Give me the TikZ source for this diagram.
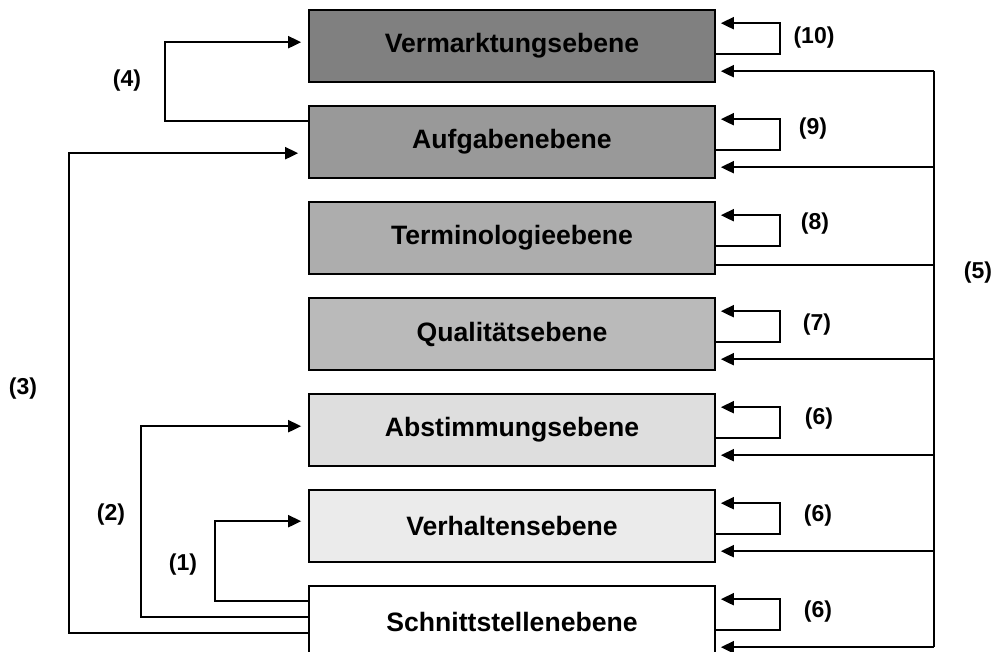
\documentclass[tikz,border=0pt]{standalone}
\usepackage{fontspec}
\setmainfont{Liberation Sans}
\usepackage{tikz}
\usetikzlibrary{positioning, calc, arrows.meta}

\begin{document}
\begin{tikzpicture}[x=0.5pt,y=-0.5pt,node distance=48pt,on grid,line width=1pt,
    >={Triangle[length=6.5pt,width=6pt]},
    ebene/.style={draw,line width=0.8pt,minimum width=203pt,minimum height=36pt,
      font=\bfseries\fontsize{13.3}{16}\selectfont},
    nr/.style={font=\bfseries\fontsize{11.5}{14}\selectfont}]
       \useasboundingbox (0,0) rectangle (995,652);
       \clip (0,0) rectangle (995,652);

       \node[ebene,fill=black!50] (V) at (512,46) {Vermarktungsebene};
       \node[ebene,fill=black!40] (A) [below=of V] {Aufgabenebene};
       \node[ebene,fill=black!32] (T) [below=of A] {Terminologieebene};
       \node[ebene,fill=black!27] (Q) [below=of T] {Qualitätsebene};
       \node[ebene,fill=black!13] (Ab) [below=of Q] {Abstimmungsebene};
       \node[ebene,fill=black!8] (Vh) [below=of Ab] {Verhaltensebene};
       \node[ebene,fill=white] (S) [below=of Vh] {Schnittstellenebene};

       % self loops
       \foreach \b in {V,A,T,Q,Ab,Vh,S}
         \draw[->] ($(\b.north east)+(0,45)$) -- ++(64,0) |- ($(\b.north east)+(5,14)$);

       % feedback bus (5)
       \draw ($(V.north east)+(218,62)$) -- ($(S.north east)+(218,62)$);
       \draw ($(T.north east)+(0,64)$) -- ++(218,0);
       \foreach \b in {V,A,Q,Ab,Vh,S}
         \draw[->] ($(\b.north east)+(218,62)$) -- ($(\b.north east)+(5,62)$);

       % left connectors
       \draw[->] ($(A.north west)+(0,16)$) -- ++(-143,0) |- ($(V.north west)+(-7,33)$);
       \draw[->] ($(S.north west)+(0,48)$) -- ++(-239,0) |- ($(A.north west)+(-10,48)$);
       \draw[->] ($(S.north west)+(0,32)$) -- ++(-167,0) |- ($(Ab.north west)+(-7,33)$);
       \draw[->] ($(S.north west)+(0,16)$) -- ++(-93,0) |- ($(Vh.north west)+(-7,32)$);

       % labels
       \node[nr] (n10) at (814,38) {(10)};
       \node[nr] (n9) at (813,129) {(9)};
       \node[nr] (n8) at (815,224) {(8)};
       \node[nr] (n7) at (817,325) {(7)};
       \node[nr] (n6a) at (819,419) {(6)};
       \node[nr] (n6b) at (818,516) {(6)};
       \node[nr] (n6c) at (818,612) {(6)};
       \node[nr] (n5) at (978,273) {(5)};
       \node[nr] (n4) at (127,81) {(4)};
       \node[nr] (n3) at (23,389) {(3)};
       \node[nr] (n2) at (111,515) {(2)};
       \node[nr] (n1) at (183,565) {(1)};
\end{tikzpicture}
\end{document}
